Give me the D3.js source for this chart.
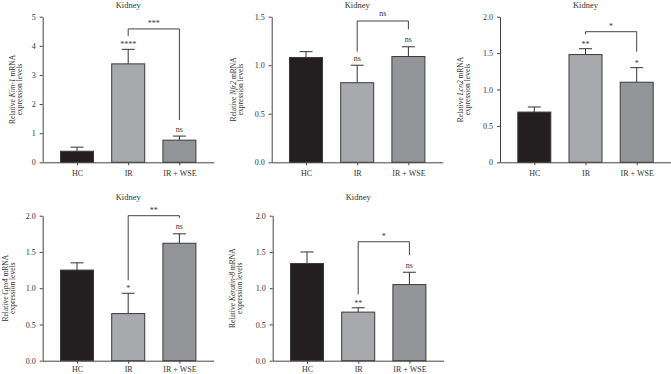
<!DOCTYPE html>
<html>
<head>
<meta charset="utf-8">
<script src="https://cdn.jsdelivr.net/npm/d3@7"></script>
<style>
body { margin: 0; background: #fff; }
text { font-family: "Liberation Serif", "Times New Roman", serif; fill: #333; }
.axis path, .axis line { stroke: #444; stroke-width: 1; }
.axis text { font-size: 8px; fill: #333; font-family: "Liberation Serif", serif; }
</style>
</head>
<body>
<div id="chart"></div>
<script>
var groups = ["HC", "IR", "IR + WSE"];
var colors = ["#231f20", "#a7a9ac", "#939598"];

// Kim-1
var kim1Means = [0.38, 3.38, 0.76];
var kim1Err = [0.14, 0.50, 0.14];
var kim1Ticks = [0, 1, 2, 3, 4, 5];
var kim1TickLabels = ["0", "1", "2", "3", "4", "5"];
var kim1Marks = ["", "****", "ns"];
var kim1Bracket = [4.58, 4.34, 1.45];   // top, left leg end, right leg end

// Nfr2
var nfr2Means = [1.08, 0.82, 1.09];
var nfr2Err = [0.06, 0.18, 0.10];
var nfr2Ticks = [0, 0.5, 1, 1.5];
var nfr2TickLabels = ["0.0", "0.5", "1.0", "1.5"];
var nfr2Marks = ["", "ns", "ns"];
var nfr2Bracket = [1.456, 1.14, 1.37];

// Lcn2
var lcn2Means = [0.69, 1.48, 1.10];
var lcn2Err = [0.07, 0.08, 0.20];
var lcn2Ticks = [0, 0.5, 1, 1.5, 2];
var lcn2TickLabels = ["0", "0.5", "1.0", "1.5", "2.0"];
var lcn2Marks = ["", "**", "*"];
var lcn2Bracket = [1.794, 1.76, 1.52];

// Gpx4
var gpx4Means = [1.25, 0.65, 1.62];
var gpx4Err = [0.10, 0.28, 0.13];
var gpx4Ticks = [0, 0.5, 1, 1.5, 2];
var gpx4TickLabels = ["0.0", "0.5", "1.0", "1.5", "2.0"];
var gpx4Marks = ["", "*", "ns"];
var gpx4Bracket = [2.0, 1.11, 1.97];

// Keratin-8
var krt8Means = [1.34, 0.67, 1.05];
var krt8Err = [0.16, 0.06, 0.17];
var krt8Ticks = [0, 0.5, 1, 1.5, 2];
var krt8TickLabels = ["0.0", "0.5", "1.0", "1.5", "2.0"];
var krt8Marks = ["", "**", "ns"];
var krt8Bracket = [1.641, 0.916, 1.458];

var panels = [
  {gene: "Kim-1", max: 5, means: kim1Means, errs: kim1Err, ticks: kim1Ticks, tickLabels: kim1TickLabels, marks: kim1Marks, bracket: kim1Bracket, bracketMark: "***"},
  {gene: "Nfr2", max: 1.5, means: nfr2Means, errs: nfr2Err, ticks: nfr2Ticks, tickLabels: nfr2TickLabels, marks: nfr2Marks, bracket: nfr2Bracket, bracketMark: "ns"},
  {gene: "Lcn2", max: 2, means: lcn2Means, errs: lcn2Err, ticks: lcn2Ticks, tickLabels: lcn2TickLabels, marks: lcn2Marks, bracket: lcn2Bracket, bracketMark: "*"},
  {gene: "Gpx4", max: 2, means: gpx4Means, errs: gpx4Err, ticks: gpx4Ticks, tickLabels: gpx4TickLabels, marks: gpx4Marks, bracket: gpx4Bracket, bracketMark: "**"},
  {gene: "Keratin-8", max: 2, means: krt8Means, errs: krt8Err, ticks: krt8Ticks, tickLabels: krt8TickLabels, marks: krt8Marks, bracket: krt8Bracket, bracketMark: "*"}
];

// where each panel sits on the page
var layout = [
  {left: 42.7, top: 16.7, bottom: 162.3, titleY: 7.5, labelX: -30.5, xPad: 5},
  {left: 271.7, top: 16.7, bottom: 162.3, titleY: 7.5, labelX: -38.5, xPad: 5},
  {left: 500, top: 16.7, bottom: 162.3, titleY: 7.5, labelX: -40, xPad: 5},
  {left: 42.7, top: 215.7, bottom: 360.7, titleY: 199.5, labelX: -38, xPad: 2.5},
  {left: 272.7, top: 215.7, bottom: 360.7, titleY: 199.5, labelX: -40.5, xPad: 2.5}
];

var w = 671, h = 374;
var plotW = 171;
var barW = 33;
var capW = 13;

var svg = d3.select("#chart").append("svg")
    .attr("width", w)
    .attr("height", h);

panels.forEach(function(p, i) {
  var L = layout[i];
  var g = svg.append("g");

  var x = d3.scalePoint()
      .domain(groups)
      .range([L.left, L.left + plotW])
      .padding(0.67);

  var y = d3.scaleLinear()
      .domain([0, p.max])
      .range([L.bottom, L.top]);

  // error bars (upper half only)
  g.selectAll(".err").data(p.means).enter().append("line")
      .attr("x1", function(d, j) { return x(groups[j]); })
      .attr("x2", function(d, j) { return x(groups[j]); })
      .attr("y1", function(d) { return y(d); })
      .attr("y2", function(d, j) { return y(d + p.errs[j]); })
      .attr("stroke", "#333");
  g.selectAll(".cap").data(p.means).enter().append("line")
      .attr("x1", function(d, j) { return x(groups[j]) - capW / 2; })
      .attr("x2", function(d, j) { return x(groups[j]) + capW / 2; })
      .attr("y1", function(d, j) { return y(d + p.errs[j]); })
      .attr("y2", function(d, j) { return y(d + p.errs[j]); })
      .attr("stroke", "#333");

  g.selectAll("rect").data(p.means).enter().append("rect")
      .attr("x", function(d, j) { return x(groups[j]) - barW / 2; })
      .attr("y", function(d) { return y(d); })
      .attr("width", barW)
      .attr("height", function(d) { return y(0) - y(d); })
      .attr("fill", function(d, j) { return colors[j]; })
      .attr("stroke", "#3a3a3a")
      .attr("stroke-width", 1);

  // significance marks above error bars
  g.selectAll(".mark").data(p.marks).enter().append("text")
      .attr("x", function(d, j) { return x(groups[j]); })
      .attr("y", function(d, j) {
        var top = y(p.means[j] + p.errs[j]);
        return d.indexOf("*") >= 0 ? top - 2 : top - 4.5;
      })
      .attr("text-anchor", "middle")
      .style("font-size", "8px")
      .text(function(d) { return d; });

  // comparison bracket IR vs IR + WSE
  var bx1 = x(groups[1]), bx2 = x(groups[2]);
  g.append("path")
      .attr("d", "M" + bx1 + "," + y(p.bracket[1]) + "V" + y(p.bracket[0]) +
                 "H" + bx2 + "V" + y(p.bracket[2]))
      .attr("fill", "none")
      .attr("stroke", "#444");
  g.append("text")
      .attr("x", (bx1 + bx2) / 2)
      .attr("y", y(p.bracket[0]) - (p.bracketMark.indexOf("*") >= 0 ? 3 : 5))
      .attr("text-anchor", "middle")
      .style("font-size", "8px")
      .text(p.bracketMark);

  // axes
  g.append("g")
      .attr("class", "axis")
      .attr("transform", "translate(" + L.left + ",0)")
      .call(d3.axisLeft(y)
        .tickValues(p.ticks)
        .tickFormat(function(d, k) { return p.tickLabels[k]; })
        .tickSize(3)
        .tickPadding(4)
        .tickSizeOuter(0));

  g.append("g")
      .attr("class", "axis")
      .attr("transform", "translate(0," + L.bottom + ")")
      .call(d3.axisBottom(x)
        .tickSize(3)
        .tickPadding(L.xPad)
        .tickSizeOuter(0));

  // title
  g.append("text")
      .attr("x", L.left + plotW / 2)
      .attr("y", L.titleY)
      .attr("text-anchor", "middle")
      .style("font-size", "8.5px")
      .text("Kidney");

  // y label, two lines
  var cy = (L.top + L.bottom) / 2;
  var lab = g.append("text")
      .attr("transform", "translate(" + (L.left + L.labelX) + "," + cy + ") rotate(-90)")
      .attr("text-anchor", "middle")
      .attr("dominant-baseline", "central")
      .style("font-size", "7.5px");
  lab.append("tspan").text("Relative ");
  lab.append("tspan").style("font-style", "italic").text(p.gene);
  lab.append("tspan").text(" mRNA");

  g.append("text")
      .attr("transform", "translate(" + (L.left + L.labelX + 7.5) + "," + cy + ") rotate(-90)")
      .attr("text-anchor", "middle")
      .attr("dominant-baseline", "central")
      .style("font-size", "7.5px")
      .text("expression levels");
});
</script>
</body>
</html>
